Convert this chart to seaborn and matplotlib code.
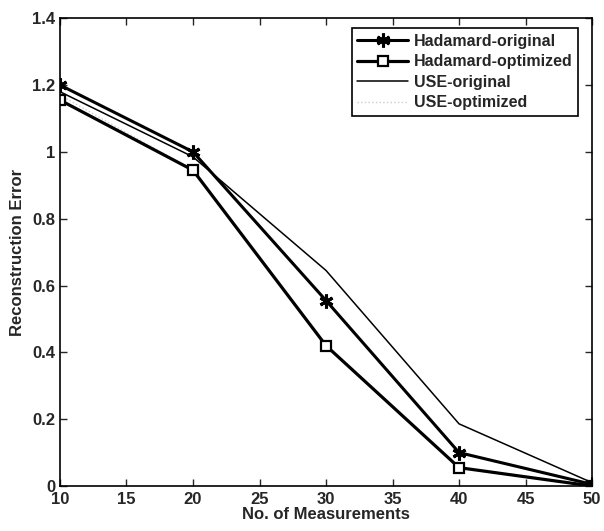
import pandas as pd
import seaborn as sns
import matplotlib.pyplot as plt

# data
measurements = [10, 20, 30, 40, 50]
hadamard_original = [1.20, 1.00, 0.555, 0.10, 0.005]
hadamard_optimized = [1.155, 0.945, 0.42, 0.055, 0.0]
use_original = [1.18, 0.985, 0.645, 0.186, 0.01]
use_optimized = [1.17, 0.945, 0.42, 0.055, 0.0]

sns.set_style("ticks")
plt.rcParams['font.family'] = ['Liberation Sans', 'DejaVu Sans']
plt.rcParams['font.weight'] = 'bold'
plt.rcParams['xtick.direction'] = 'in'
plt.rcParams['ytick.direction'] = 'in'

fig = plt.figure(figsize=(6.04, 5.31), dpi=100)
ax = fig.add_axes([0.0993, 0.0847, 0.881, 0.881])

# Plot each series
sns.lineplot(x=measurements, y=use_optimized, ax=ax, color="#cccccc",
             linewidth=1.0, linestyle=":", label="USE-optimized")
sns.lineplot(x=measurements, y=use_original, ax=ax, color="black",
             linewidth=1.1, label="USE-original")
sns.lineplot(x=measurements, y=hadamard_optimized, ax=ax, color="black",
             linewidth=2.3, marker="s", markersize=7, markerfacecolor="white",
             markeredgecolor="black", markeredgewidth=1.6,
             label="Hadamard-optimized")
sns.lineplot(x=measurements, y=hadamard_original, ax=ax, color="black",
             linewidth=2.2, marker=(6, 2, 0), markersize=10,
             markeredgecolor="black", markeredgewidth=2.2,
             label="Hadamard-original")

ax.set_xlim(10, 50)
ax.set_ylim(0, 1.4)
ax.set_xticks([10, 15, 20, 25, 30, 35, 40, 45, 50])
ax.set_yticks([0, 0.2, 0.4, 0.6, 0.8, 1, 1.2, 1.4])
ax.set_yticklabels(["0", "0.2", "0.4", "0.6", "0.8", "1", "1.2", "1.4"])
ax.tick_params(top=True, right=True, labelsize=12, length=5, width=1, pad=3.5)
ax.tick_params(axis="x", pad=4.5)
for s in ax.spines.values():
    s.set_visible(True)
    s.set_linewidth(1.2)
    s.set_color("black")

ax.set_xlabel("No. of Measurements", fontsize=12, fontweight="bold", labelpad=0)
ax.set_ylabel("Reconstruction Error", fontsize=12, fontweight="bold", labelpad=5)

# legend in original order
handles, labels = ax.get_legend_handles_labels()
order = ["Hadamard-original", "Hadamard-optimized", "USE-original", "USE-optimized"]
hmap = dict(zip(labels, handles))
leg = ax.legend([hmap[k] for k in order], order, loc="upper right",
                bbox_to_anchor=(0.974, 0.979), borderaxespad=0, fontsize=11.5,
                frameon=True, fancybox=False, edgecolor="black", framealpha=1,
                borderpad=0.35, labelspacing=0.35, handlelength=3.2,
                handletextpad=0.35)
leg.get_frame().set_linewidth(1.2)
for t in leg.get_texts():
    t.set_fontweight("bold")

fig.savefig("out.png", dpi=100)
